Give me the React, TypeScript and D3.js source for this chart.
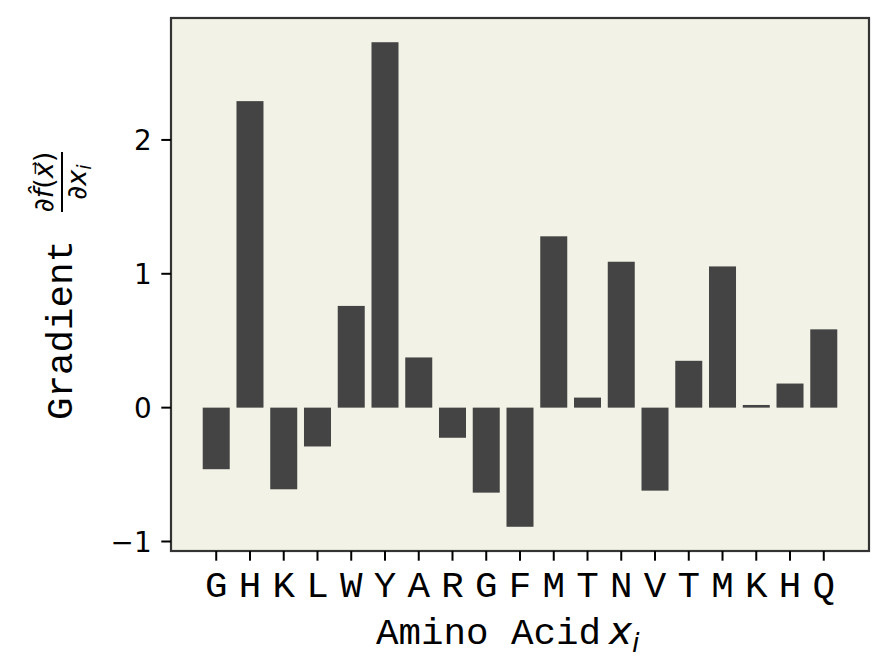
import React from 'react';
import * as d3 from 'd3';

const categories = ['G', 'H', 'K', 'L', 'W', 'Y', 'A', 'R', 'G', 'F', 'M', 'T', 'N', 'V', 'T', 'M', 'K', 'H', 'Q'];
const values = [-0.46, 2.29, -0.61, -0.29, 0.76, 2.73, 0.375, -0.225, -0.635, -0.89, 1.28, 0.075, 1.09, -0.62, 0.35, 1.055, 0.02, 0.18, 0.585];
const yTicks = [-1, 0, 1, 2];

const MONO = '"Liberation Mono", "DejaVu Sans Mono", monospace';
const SANS = '"DejaVu Sans", sans-serif';

export default function App() {
  const W = 888, H = 671;
  const m = { left: 171, right: 869, top: 18, bottom: 551 };
  const n = categories.length;
  const bw = 0.8;
  const xpad = (n - 1 + bw) * 0.05;
  const x = d3.scaleLinear().domain([-bw / 2 - xpad, n - 1 + bw / 2 + xpad]).range([m.left, m.right]);
  const lo = Math.min(0, d3.min(values) as number);
  const hi = Math.max(0, d3.max(values) as number);
  const ypad = (hi - lo) * 0.05;
  const y = d3.scaleLinear().domain([lo - ypad, hi + ypad]).range([m.bottom, m.top]);
  const tickLen = 9.7;
  const monoSize = 37.5;
  const fmt = (v: number) => (v < 0 ? '\u2212' + Math.abs(v) : String(v));
  const cy = (m.top + m.bottom) / 2;

  return (
    <svg width={W} height={H} style={{ position: 'absolute', left: 0, top: 0, background: '#ffffff' }}>
      <rect x={0} y={0} width={W} height={H} fill="#ffffff" />
      <rect x={m.left} y={m.top} width={m.right - m.left} height={m.bottom - m.top} fill="#f2f2e6" />
      {values.map((v, i) => {
        const x0 = x(i - bw / 2);
        const x1 = x(i + bw / 2);
        const ya = y(Math.max(0, v));
        const yb = y(Math.min(0, v));
        return <rect key={i} x={x0} y={ya} width={x1 - x0} height={Math.max(0, yb - ya)} fill="#444444" />;
      })}
      <rect x={m.left} y={m.top} width={m.right - m.left} height={m.bottom - m.top} fill="none" stroke="#333333" strokeWidth={2.2} />
      {yTicks.map((t) => (
        <g key={t}>
          <line x1={m.left - tickLen} x2={m.left} y1={y(t)} y2={y(t)} stroke="#000" strokeWidth={2} />
          <text x={m.left - tickLen - 9.7} y={y(t)} dy="0.36em" textAnchor="end" fontFamily={SANS} fontSize={27.8} fill="#000">
            {fmt(t)}
          </text>
        </g>
      ))}
      {categories.map((c, i) => (
        <g key={i}>
          <line x1={x(i)} x2={x(i)} y1={m.bottom} y2={m.bottom + tickLen} stroke="#000" strokeWidth={2} />
          <text x={x(i)} y={597} textAnchor="middle" fontFamily={MONO} fontSize={monoSize} fill="#000">
            {c}
          </text>
        </g>
      ))}
      <text x={376} y={644} textAnchor="start" fill="#000">
        <tspan fontFamily={MONO} fontSize={monoSize}>Amino Acid</tspan>
        <tspan fontFamily={SANS} fontStyle="italic" fontSize={38.9} dx={8}>x</tspan>
        <tspan fontFamily={SANS} fontStyle="italic" fontSize={27} dy={8}>i</tspan>
      </text>
      <g transform={`translate(72, ${cy}) rotate(-90)`}>
        <text x={-135.5} y={0} fontFamily={MONO} fontSize={monoSize} fill="#000">Gradient</text>
        <line x1={72.5} x2={132.5} y1={-10} y2={-10} stroke="#000" strokeWidth={2} />
        <text x={102.5} y={-19} textAnchor="middle" fontFamily={SANS} fontSize={27} fill="#000">
          <tspan fontStyle="italic">{'\u2202'}</tspan>
          <tspan fontStyle="italic">{'f\u0302'}</tspan>
          <tspan>(</tspan>
          <tspan fontStyle="italic">{'x\u20D7'}</tspan>
          <tspan>)</tspan>
        </text>
        <text x={102.5} y={14} textAnchor="middle" fontFamily={SANS} fontSize={27} fill="#000">
          <tspan fontStyle="italic">{'\u2202'}</tspan>
          <tspan fontStyle="italic">x</tspan>
          <tspan fontStyle="italic" fontSize={19} dy={5}>i</tspan>
        </text>
      </g>
    </svg>
  );
}
